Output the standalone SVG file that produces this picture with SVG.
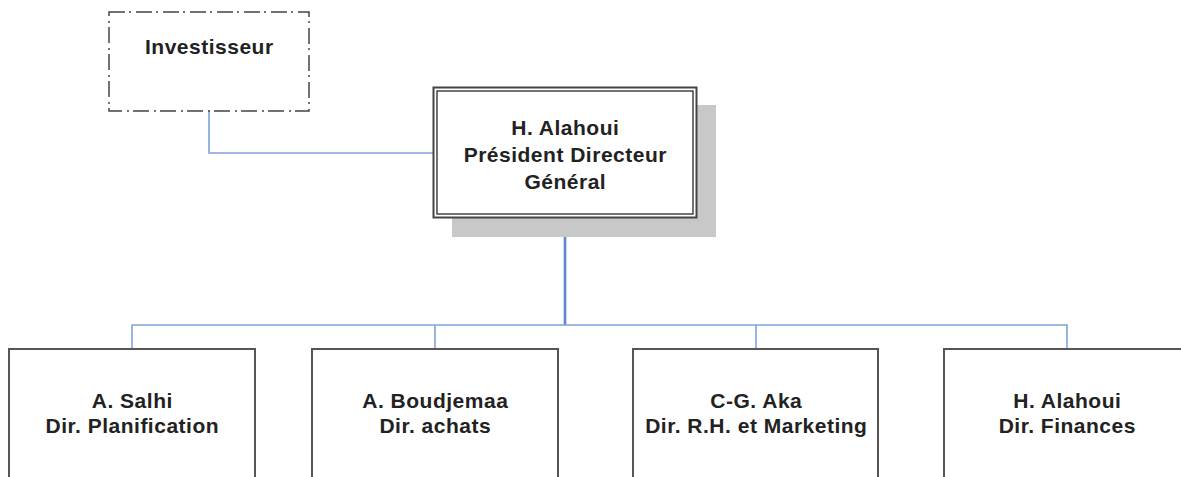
<svg xmlns="http://www.w3.org/2000/svg" width="1181" height="477" viewBox="0 0 1181 477">
<style>
.t{font-family:"Liberation Sans",Arial,sans-serif;font-weight:bold;font-size:21px;letter-spacing:0.5px;fill:#222;text-anchor:middle}
.box{fill:#fff;stroke:#555;stroke-width:2}
.c{fill:none;stroke:#7ea2dc;stroke-width:1.6}
.trunk{fill:none;stroke:#5b87d2;stroke-width:2.6}
</style>
<rect width="1181" height="477" fill="#fff"/>
<g id="connectors">
<polyline class="c" points="209,111 209,153 434,153"/>
<line class="trunk" x1="565" y1="218" x2="565" y2="325"/>
<polyline class="c" points="132,349 132,325 1067,325 1067,349"/>
<line class="c" x1="435" y1="325" x2="435" y2="349"/>
<line class="c" x1="756" y1="325" x2="756" y2="349"/>
</g>
<g id="investisseur">
<rect x="109" y="12" width="200" height="99" fill="#fff" stroke="#444" stroke-width="1.5" stroke-dasharray="16,4,2,5"/>
<text class="t" x="209.3" y="54">Investisseur</text>
</g>
<g id="pdg">
<rect x="452" y="105" width="264" height="132" fill="#c8c8c8"/>
<rect x="433.5" y="87.5" width="263" height="130" fill="#fff" stroke="#444" stroke-width="2"/>
<rect x="437" y="91" width="256" height="123" fill="none" stroke="#444" stroke-width="1.5"/>
<text class="t" x="565.3" y="135">H. Alahoui</text>
<text class="t" x="565.3" y="162">Président Directeur</text>
<text class="t" x="565.3" y="189">Général</text>
</g>
<g id="salhi">
<rect class="box" x="9" y="349" width="246" height="140"/>
<text class="t" x="132.3" y="408">A. Salhi</text>
<text class="t" x="132.3" y="433">Dir. Planification</text>
</g>
<g id="boudjemaa">
<rect class="box" x="312" y="349" width="246" height="140"/>
<text class="t" x="435.3" y="408">A. Boudjemaa</text>
<text class="t" x="435.3" y="433">Dir. achats</text>
</g>
<g id="aka">
<rect class="box" x="633" y="349" width="245" height="140"/>
<text class="t" x="756.3" y="408">C-G. Aka</text>
<text class="t" x="756.3" y="433">Dir. R.H. et Marketing</text>
</g>
<g id="finances">
<rect class="box" x="944" y="349" width="246" height="140"/>
<text class="t" x="1067.3" y="408">H. Alahoui</text>
<text class="t" x="1067.3" y="433">Dir. Finances</text>
</g>
</svg>
